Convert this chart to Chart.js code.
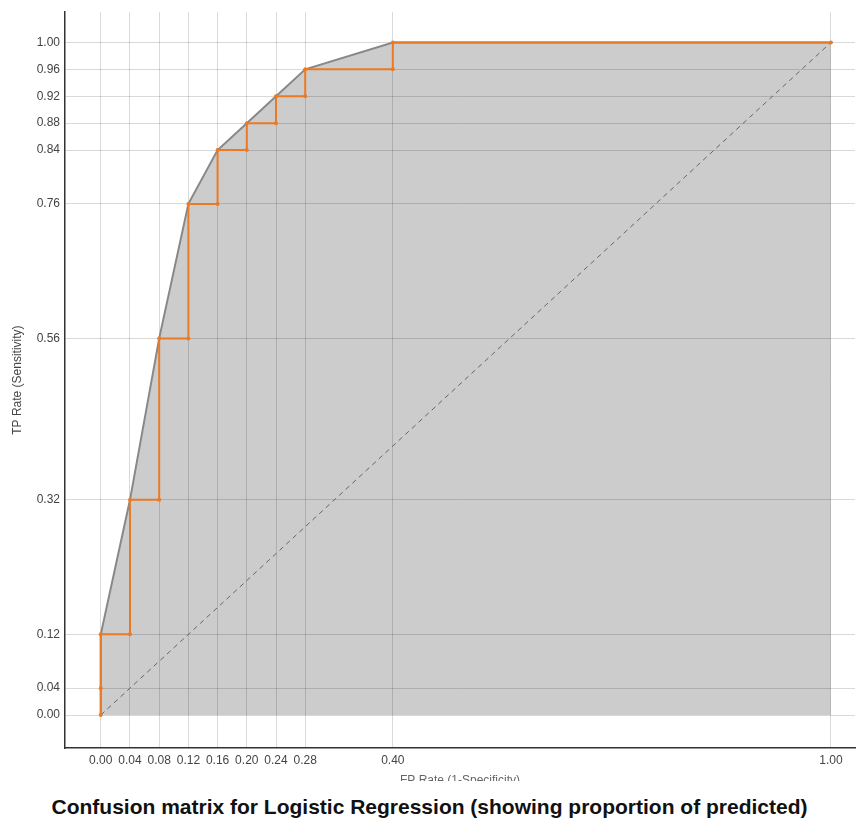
<!DOCTYPE html>
<html>
<head>
<meta charset="utf-8">
<script src="https://cdn.jsdelivr.net/npm/chart.js@4/dist/chart.umd.min.js"></script>
<style>
  body { margin: 0; background: #fff; width: 859px; height: 825px; overflow: hidden; position: relative; }
  #wrap { position: absolute; left: 0; top: 0; width: 859px; height: 792px; }
  #caption {
    position: absolute; left: 0; top: 781px; width: 859px; height: 44px;
    background: #fff; text-align: center;
    font: bold 21px "Liberation Sans", Arial, sans-serif; color: #111;
    line-height: 52px;
  }
</style>
</head>
<body>
<div id="wrap"><canvas id="roc"></canvas></div>
<div id="caption">Confusion matrix for Logistic Regression (showing proportion of predicted)</div>
<script>
// ROC curve points (FP rate, TP rate)
const rocFpr = [0, 0, 0, 0.04, 0.04, 0.08, 0.08, 0.12, 0.12, 0.16, 0.16, 0.20, 0.20, 0.24, 0.24, 0.28, 0.28, 0.40, 0.40, 1.00]
const rocTpr = [0, 0.04, 0.12, 0.12, 0.32, 0.32, 0.56, 0.56, 0.76, 0.76, 0.84, 0.84, 0.88, 0.88, 0.92, 0.92, 0.96, 0.96, 1.00, 1.00]

// convex hull of the ROC curve
const hullFpr = [0, 0, 0.04, 0.08, 0.12, 0.16, 0.20, 0.24, 0.28, 0.40, 1.00]
const hullTpr = [0, 0.12, 0.32, 0.56, 0.76, 0.84, 0.88, 0.92, 0.96, 1.00, 1.00]

// chance diagonal
const diagFpr = [0, 1]
const diagTpr = [0, 1]

// tick labels
const xTicks = [0, 0.04, 0.08, 0.12, 0.16, 0.20, 0.24, 0.28, 0.40, 1.00]
const yTicks = [0, 0.04, 0.12, 0.32, 0.56, 0.76, 0.84, 0.88, 0.92, 0.96, 1.00]

const toPts = (xs, ys) => xs.map((x, i) => ({ x, y: ys[i] }))

const tickFont = { family: '"Liberation Sans", Arial, sans-serif', size: 12 }

new Chart(document.getElementById('roc'), {
    type: 'scatter',
    data: {
        datasets: [
            {
                label: 'ROC',
                data: toPts(rocFpr, rocTpr),
                showLine: true,
                borderColor: '#ec7a23',
                backgroundColor: '#ec7a23',
                borderWidth: 2,
                pointRadius: 2,
                pointBorderWidth: 0,
                order: 0
            },
            {
                label: 'chance',
                data: toPts(diagFpr, diagTpr),
                showLine: true,
                borderColor: '#666',
                borderWidth: 1,
                borderDash: [5, 4],
                pointRadius: 0,
                order: 1
            },
            {
                label: 'hull',
                data: toPts(hullFpr, hullTpr),
                showLine: true,
                borderColor: '#888',
                borderWidth: 2,
                backgroundColor: 'rgba(0,0,0,0.2)',
                fill: { value: 0 },
                pointRadius: 0,
                order: 2
            }
        ]
    },
    options: {
        responsive: true,
        maintainAspectRatio: false,
        animation: false,
        layout: { padding: { top: 4, right: 4, left: 0, bottom: 0 } },
        plugins: { legend: { display: false }, tooltip: { enabled: false } },
        scales: {
            x: {
                type: 'linear',
                min: -0.049,
                max: 1.033,
                afterBuildTicks: (s) => { s.ticks = xTicks.map(v => ({ value: v })) },
                afterFit: (s) => { s.height = 44 },
                ticks: {
                    autoSkip: false, maxRotation: 0, padding: 5,
                    color: '#444', font: tickFont,
                    callback: (v) => Number(v).toFixed(2)
                },
                grid: { color: 'rgba(0,0,0,0.15)', drawTicks: false },
                border: { color: '#333', width: 1.5 },
                title: { display: true, text: 'FP Rate (1-Specificity)', color: '#666', font: { family: '"Liberation Sans", Arial, sans-serif', size: 12 }, padding: { top: 8 } }
            },
            y: {
                type: 'linear',
                min: -0.049,
                max: 1.045,
                afterBuildTicks: (s) => { s.ticks = yTicks.map(v => ({ value: v })) },
                afterFit: (s) => { s.width = 65 },
                ticks: {
                    autoSkip: false, padding: 5,
                    color: '#444', font: tickFont,
                    callback: (v) => Number(v).toFixed(2)
                },
                grid: { color: 'rgba(0,0,0,0.15)', drawTicks: false },
                border: { color: '#333', width: 1.5 },
                title: { display: true, text: 'TP Rate (Sensitivity)', color: '#444', font: { family: '"Liberation Sans", Arial, sans-serif', size: 12 }, padding: { top: 10, bottom: 0 } }
            }
        }
    }
})
</script>
</body>
</html>
